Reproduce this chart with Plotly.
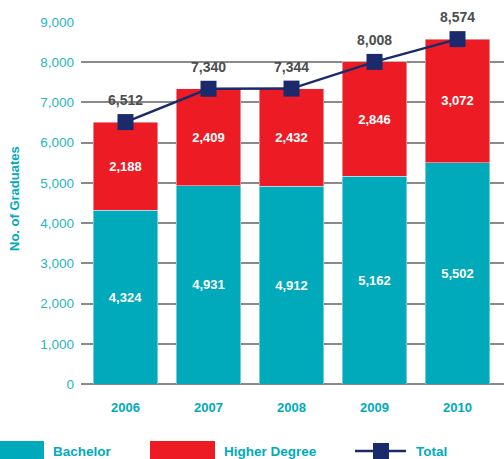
import plotly.graph_objects as go

years = ["2006", "2007", "2008", "2009", "2010"]
bachelor = [4324, 4931, 4912, 5162, 5502]
higher_degree = [2188, 2409, 2432, 2846, 3072]
total = [6512, 7340, 7344, 8008, 8574]

teal = "#00aabb"
red = "#ed1c24"
navy = "#1b2a6b"
font = "Liberation Sans, Arial, sans-serif"

# plot area in pixels, used to place the hand-drawn legend
L, R, T, B = 81, 504, 22, 384


def px(x):
    return (x - L) / (R - L)


def py(y):
    return (B - y) / (B - T)


fig = go.Figure()
fig.add_trace(go.Bar(x=years, y=bachelor, name="Bachelor", marker_color=teal,
                     text=[f"{v:,}" for v in bachelor], textposition="inside",
                     insidetextanchor="middle",
                     textfont=dict(color="white", size=13, family=font, weight="bold")))
fig.add_trace(go.Bar(x=years, y=higher_degree, name="Higher Degree", marker_color=red,
                     text=[f"{v:,}" for v in higher_degree], textposition="inside",
                     insidetextanchor="middle",
                     textfont=dict(color="white", size=13, family=font, weight="bold")))
fig.add_trace(go.Scatter(x=years, y=total, name="Total", mode="lines+markers",
                         line=dict(color=navy, width=2.5), cliponaxis=False,
                         marker=dict(symbol="square", size=16, color=navy)))

# total labels above the markers (category index, since the year strings look numeric)
annotations = []
for i, v in enumerate(total):
    annotations.append(dict(x=i, y=v, xref="x", yref="y", text=f"{v:,}", showarrow=False,
                            yshift=22,
                            font=dict(color="#4d4d4d", size=14, family=font, weight="bold")))

# legend drawn by hand
shapes = [
    dict(type="rect", xref="paper", yref="paper", x0=px(0), x1=px(44), y0=py(459), y1=py(441),
         fillcolor=teal, line_width=0),
    dict(type="rect", xref="paper", yref="paper", x0=px(150), x1=px(215), y0=py(459), y1=py(441),
         fillcolor=red, line_width=0),
    dict(type="line", xref="paper", yref="paper", x0=px(355), x1=px(406), y0=py(451), y1=py(451),
         line=dict(color=navy, width=2.5)),
    dict(type="rect", xref="paper", yref="paper", x0=px(373), x1=px(389), y0=py(459), y1=py(443),
         fillcolor=navy, line_width=0),
]
for label, x in [("Bachelor", 51), ("Higher Degree", 222), ("Total", 414)]:
    annotations.append(dict(text=label, xref="paper", yref="paper", x=px(x), y=py(451),
                            xanchor="left", yanchor="middle", showarrow=False,
                            font=dict(color=teal, size=13.5, family=font, weight="bold")))
annotations.append(dict(text="No. of Graduates", xref="paper", yref="paper",
                        x=px(14), y=py(199), xanchor="center", yanchor="middle",
                        textangle=-90, showarrow=False,
                        font=dict(color=teal, size=13, family=font, weight="bold")))

fig.update_layout(
    width=504, height=459,
    margin=dict(l=L, r=504 - R, t=T, b=459 - B, autoexpand=False),
    barmode="stack", bargap=0.22,
    plot_bgcolor="white", paper_bgcolor="white",
    showlegend=False,
    shapes=shapes, annotations=annotations,
    font=dict(family=font),
)
fig.update_xaxes(type="category", range=[-0.536, 4.56], showgrid=False, showline=False,
                 automargin=False,
                 tickfont=dict(color=teal, size=13, family=font, weight="bold"),
                 ticklabelstandoff=14)
fig.update_yaxes(range=[0, 9000], dtick=1000, tickformat=",", automargin=False,
                 showgrid=True, gridcolor="#8a8a8a", gridwidth=1.5,
                 zeroline=True, zerolinecolor="#8a8a8a", zerolinewidth=1.5,
                 tickfont=dict(color="#2ab4c4", size=13.5, family=font),
                 ticklabelstandoff=6)

fig.write_html("out.html", config={"displayModeBar": False},
               post_script="document.body.style.margin='0';")
